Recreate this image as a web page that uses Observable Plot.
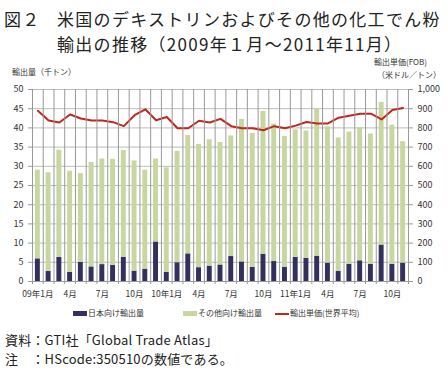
<!DOCTYPE html>
<html><head><meta charset="utf-8">
<script src="https://cdn.jsdelivr.net/npm/d3@7"></script>
<script src="https://cdn.jsdelivr.net/npm/@observablehq/plot@0.6"></script>
<style>
body{margin:0;background:#fff;font-family:"Noto Sans CJK JP",sans-serif;color:#222;}
#wrap{position:relative;width:448px;height:372px;overflow:hidden;}
.abs{position:absolute;white-space:nowrap;}
.t{font-size:17px;line-height:25px;letter-spacing:1.3px;}
.small{font-size:8px;color:#333;}
.cap{font-size:13px;line-height:19px;letter-spacing:0.2px;}
.sw{display:inline-block;width:14px;height:5px;vertical-align:middle;margin-right:1px;}
</style></head>
<body><div id="wrap">
<div class="abs t" style="left:4px;top:6px;">図２</div>
<div class="abs t" style="left:57px;top:6px;">米国のデキストリンおよびその他の化工でん粉<br>輸出の推移（2009年１月～2011年11月）</div>
<div class="abs small" style="left:12px;top:66px;">輸出量（千トン）</div>
<div class="abs small" style="left:374px;top:56px;">輸出単価(FOB)</div>
<div class="abs small" style="left:377px;top:69px;">（米ドル／トン）</div>
<div id="chart" class="abs" style="left:0;top:56px;"></div>
<div class="abs small" style="left:73px;top:307px;"><span class="sw" style="background:#33305e"></span>日本向け輸出量</div>
<div class="abs small" style="left:183px;top:307px;"><span class="sw" style="background:#c8d7a0"></span>その他向け輸出量</div>
<div class="abs small" style="left:275px;top:307px;"><span class="sw" style="background:#c0281e;height:2px"></span>輸出単価(世界平均)</div>
<div class="abs cap" style="left:5px;top:330px;">資料：GTI社「Global Trade Atlas」<br>注　：HScode:350510の数値である。</div>
</div>
<script>
const months = ["09年1月","2月","3月","4月","5月","6月","7月","8月","9月","10月","11月","12月",
"10年1月","2月","3月","4月","5月","6月","7月","8月","9月","10月","11月","12月",
"11年1月","2月","3月","4月","5月","6月","7月","8月","9月","10月","11月"];
const japan = [5.9,2.6,6.3,2.4,5.0,3.8,4.4,4.2,6.3,2.7,3.2,10.3,
2.4,4.9,7.2,3.6,4.0,4.3,6.5,5.1,3.7,7.1,5.2,3.7,
6.3,6.0,6.6,4.8,2.6,4.5,5.4,4.5,9.5,4.5,4.8];
const other = [23.1,25.7,27.9,26.3,23.1,27.2,27.5,27.6,27.8,28.7,25.8,21.6,
27.2,29.0,30.8,32.1,32.9,31.9,31.4,37.1,34.9,37.2,35.8,34.1,
33.2,33.2,38.4,35.5,34.8,34.4,34.7,33.9,37.1,36.2,31.6];
const price = [889,838,828,870,849,838,838,830,809,866,897,840,
857,798,798,837,828,847,809,798,798,788,809,798,
812,831,823,823,853,863,874,874,844,893,904];
const tickMonths = [0,3,6,9,12,15,18,21,24,27,30,33];
const leftTicks = [0,5,10,15,20,25,30,35,40,45,50];

const rows = months.map((m,i)=>({i, m, j:japan[i], o:other[i], p:price[i]}));
const inset = 2.9;
const plot = Plot.plot({
  width:448, height:250,
  marginLeft:32, marginRight:40, marginTop:33, marginBottom:25,
  style:{fontFamily:'"Noto Sans CJK JP",sans-serif', fontSize:"9px", color:"#333", background:"transparent"},
  x:{type:"linear", domain:[0,35], axis:null},
  y:{domain:[0,50], axis:null},
  marks:[
    Plot.ruleY(leftTicks.slice(1), {stroke:"#bdbdbd", strokeWidth:1}),
    Plot.rect(rows, {x1:d=>d.i, x2:d=>d.i+1, y1:0, y2:d=>d.j, fill:"#33305e", insetLeft:inset, insetRight:inset}),
    Plot.rect(rows, {x1:d=>d.i, x2:d=>d.i+1, y1:d=>d.j, y2:d=>d.j+d.o, fill:"#c8d7a0", insetLeft:inset, insetRight:inset}),
    Plot.line(rows, {x:d=>d.i+0.5, y:d=>d.p/20, stroke:"#c0281e", strokeWidth:2}),
    Plot.ruleX([0,35], {stroke:"#999"}),
    Plot.ruleY([0], {stroke:"#999"}),
    Plot.tickX(d3.range(0,36), {y1:0, y2:0, stroke:"#999", insetBottom:-3}),
    Plot.axisY({ticks:leftTicks, anchor:"left", tickSize:4, tickPadding:5, stroke:"#999", tickFormat:d=>d}),
    Plot.axisY({ticks:leftTicks, anchor:"right", tickSize:4, tickPadding:5, stroke:"#999", tickFormat:d=>d3.format(",")(d*20)}),
    Plot.text(tickMonths, {x:d=>d+0.5, y:0, text:d=>months[d], dy:13, fontSize:8.5, fill:"#333"})
  ]
});
document.getElementById("chart").appendChild(plot);
</script>
</body></html>
